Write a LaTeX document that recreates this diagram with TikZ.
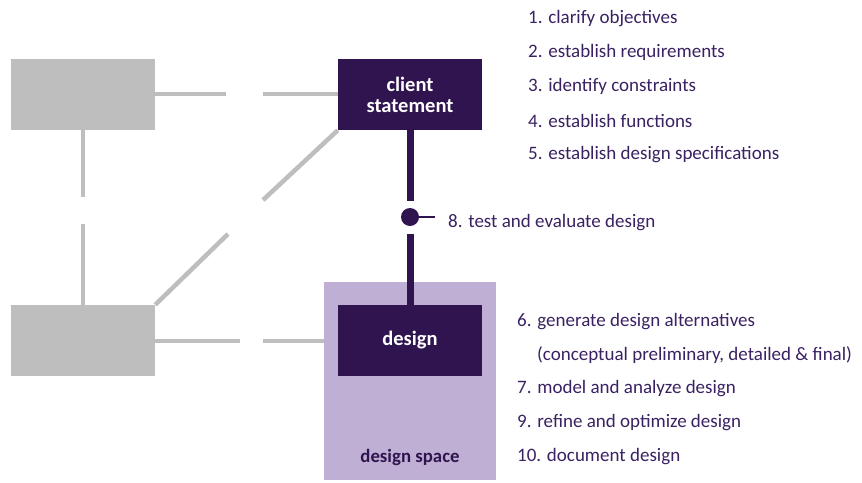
\documentclass[tikz,border=0pt]{standalone}
\usepackage{fontspec}
\setmainfont{Carlito}
\definecolor{dpurple}{HTML}{2F1450}
\definecolor{lpurple}{HTML}{C0AFD4}
\definecolor{lgray}{HTML}{BEBEBE}
\definecolor{tpurple}{HTML}{3A2162}
\begin{document}
\begin{tikzpicture}[x=1pt,y=-1pt,
  graybox/.style={fill=lgray,draw=none,minimum width=144pt,minimum height=71pt,inner sep=0pt},
  darkbox/.style={fill=dpurple,draw=none,minimum width=144pt,minimum height=71pt,inner sep=0pt,text=white,font=\fontsize{20.5}{23}\selectfont\bfseries,align=center},
  gline/.style={draw=lgray,line width=4.5pt},
  pline/.style={draw=dpurple,line width=7pt},
  item/.style={anchor=west,text=tpurple,font=\fontsize{19}{22}\selectfont,inner sep=0pt}]
\useasboundingbox (0,0) rectangle (862,482);
% design space
\node[fill=lpurple,minimum width=172pt,minimum height=198pt,inner sep=0pt,anchor=north west] (space) at (324,282) {};
\node[text=dpurple,font=\fontsize{18.8}{22}\selectfont\bfseries,inner sep=0pt] (spacelbl) at (410,457) {design space};
% boxes
\node[graybox] (g1) at (83,94.5) {};
\node[graybox] (g2) at (83,340.5) {};
\node[darkbox] (cs) at (410,94.5) {client\\[-2pt]statement};
\node[darkbox] (ds) at (410,340.5) {design};
% gray connector pieces
\coordinate (h1a) at (226,94);
\coordinate (h1b) at (263,94);
\draw[gline] (g1.east |- h1a) -- (h1a);
\draw[gline] (h1b) -- (cs.west |- h1b);
\coordinate (v1a) at (83,197);
\coordinate (v1b) at (83,224);
\draw[gline] (g1.south) -- (v1a);
\draw[gline] (v1b) -- (g2.north);
\coordinate (d1a) at (263,200);
\coordinate (d1b) at (228,234);
\draw[gline] (cs.south west) -- (d1a);
\draw[gline] (d1b) -- (g2.north east);
\coordinate (h2a) at (240,341);
\coordinate (h2b) at (263,341);
\draw[gline] (g2.east |- h2a) -- (h2a);
\draw[gline] (h2b) -- (space.west |- h2b);
% purple connector
\coordinate (p1) at (410,201);
\coordinate (p2) at (410,234);
\draw[pline] (cs.south) -- (p1);
\draw[pline] (p2) -- (ds.north);
\node[circle,fill=dpurple,minimum size=18pt,inner sep=0pt] (dot) at (410,217) {};
\coordinate (tick) at (435,217);
\draw[draw=dpurple,line width=1.5pt] (dot.east) -- (tick);
\node[item] (t8) at (448,223) {8. test and evaluate design};
% upper list
\node[item] (t1) at (528,18.5) {1. clarify objectives};
\node[item] (t2) at (528,52) {2. establish requirements};
\node[item] (t3) at (528,86.5) {3. identify constraints};
\node[item] (t4) at (528,120.5) {4. establish functions};
\node[item] (t5) at (528,154.5) {5. establish design specifications};
% lower list
\node[item] (t6) at (517,321.5) {6. generate design alternatives};
\node[item] (t6b) at (537,355) {(conceptual preliminary, detailed \& final)};
\node[item] (t7) at (517,389) {7. model and analyze design};
\node[item] (t9) at (517,422.5) {9. refine and optimize design};
\node[item] (t10) at (517,456.5) {10. document design};
\end{tikzpicture}
\end{document}
